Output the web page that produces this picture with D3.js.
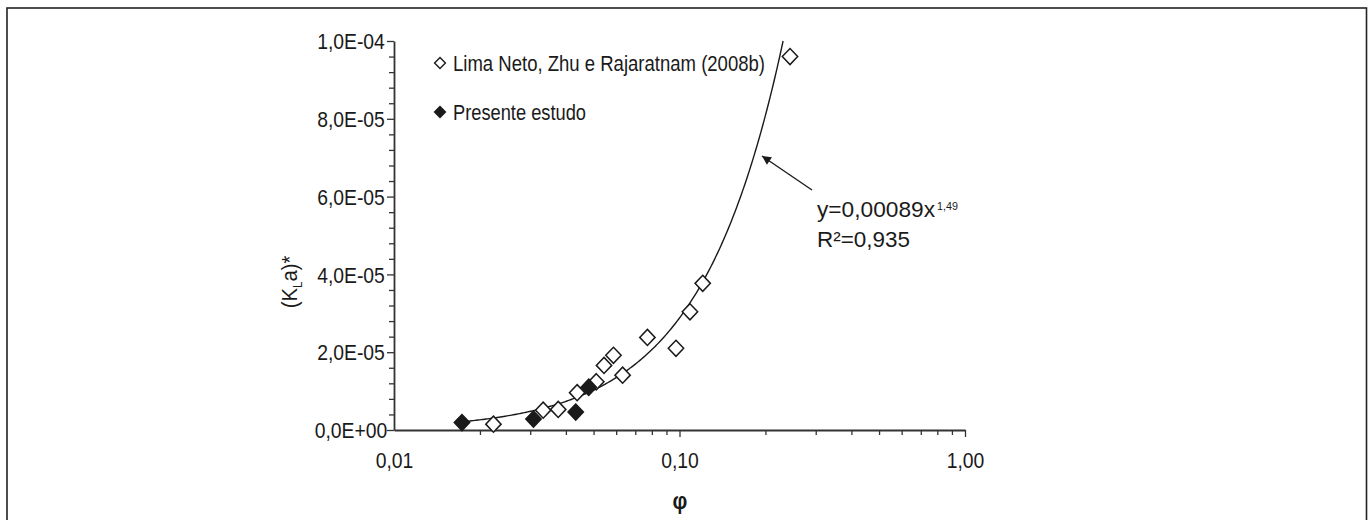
<!DOCTYPE html>
<html>
<head>
<meta charset="utf-8">
<script src="https://cdn.jsdelivr.net/npm/d3@7"></script>
<style>
  html, body { margin: 0; padding: 0; background: #fff; }
  svg { display: block; font-family: "Liberation Sans", Arial, sans-serif; }
</style>
</head>
<body>
<div id="chart"></div>
<script>
// ========= DATA =========
// Lima Neto, Zhu e Rajaratnam (2008b) - open diamonds
const limaX = [0.0223, 0.0333, 0.0376, 0.0438, 0.0511, 0.0544, 0.0587, 0.0632, 0.0772, 0.0972, 0.1088, 0.1206, 0.2438];
const limaY = [1.5e-6, 5.1e-6, 5.3e-6, 9.6e-6, 1.24e-5, 1.66e-5, 1.92e-5, 1.41e-5, 2.38e-5, 2.10e-5, 3.04e-5, 3.77e-5, 9.60e-5];
// Presente estudo - filled diamonds
const presX = [0.0173, 0.0308, 0.0433, 0.0481];
const presY = [1.9e-6, 2.8e-6, 4.6e-6, 1.1e-5];

// ajuste potencial y = a x^b
const FIT_A = 0.00089;
const FIT_B = 1.49;

const xTicks = [0.01, 0.1, 1];
const xTickLabels = ["0,01", "0,10", "1,00"];
const yTicks = [0, 2e-5, 4e-5, 6e-5, 8e-5, 1e-4];
const yTickLabels = ["0,0E+00", "2,0E-05", "4,0E-05", "6,0E-05", "8,0E-05", "1,0E-04"];
const legendLabels = ["Lima Neto, Zhu e Rajaratnam (2008b)", "Presente estudo"];

// ========= LAYOUT =========
const W = 1370, H = 520;
const SX = 0.9;        // letra condensada
const FS = 21.5;
const INK = "#1a1a1a";

const svg = d3.select("#chart").append("svg")
  .attr("width", W).attr("height", H);

// marco
svg.append("rect")
  .attr("x", 7).attr("y", 8)
  .attr("width", 1359.5).attr("height", 540)
  .attr("fill", "none").attr("stroke", "#222").attr("stroke-width", 1.6);

const x = d3.scaleLog().domain([0.01, 1]).range([394, 965]);
const y = d3.scaleLinear().domain([0, 1e-4]).range([430, 41]);

function txt(parent, px, py, s, size, anchor){
  return parent.append("text")
    .attr("transform", `translate(${px},${py}) scale(${SX},1)`)
    .attr("text-anchor", anchor || "start")
    .attr("font-size", size || FS)
    .attr("fill", INK)
    .text(s);
}

// ========= AXES =========
// y menores
const yMinor = d3.range(0, 1e-4 + 1e-9, 4e-6).filter(v => Math.abs(v / 2e-5 - Math.round(v / 2e-5)) > 1e-6);
svg.append("g")
  .attr("transform", `translate(${x(0.01)},0)`)
  .call(d3.axisLeft(y).tickValues(yMinor).tickSize(5).tickFormat(""))
  .call(g => g.select(".domain").remove())
  .selectAll("line").attr("stroke", "#333").attr("stroke-width", 1.3);

const yAxis = svg.append("g")
  .attr("transform", `translate(${x(0.01)},0)`)
  .call(d3.axisLeft(y).tickValues(yTicks).tickSize(7).tickSizeOuter(0)
    .tickFormat((d, i) => yTickLabels[i]));
yAxis.select(".domain").attr("stroke", "#333").attr("stroke-width", 1.8);
yAxis.selectAll("line").attr("stroke", "#333").attr("stroke-width", 1.3);
yAxis.selectAll("text")
  .attr("x", null).attr("dy", null)
  .attr("text-anchor", "middle")
  .attr("transform", `translate(-43,7.7) scale(${SX},1)`)
  .attr("font-size", FS).attr("font-family", null).attr("fill", INK);

// x menores
const xMinor = [];
[0.01, 0.1].forEach(dec => d3.range(2, 10).forEach(k => xMinor.push(dec * k)));
svg.append("g")
  .attr("transform", `translate(0,${y(0)})`)
  .call(d3.axisBottom(x).tickValues(xMinor).tickSize(5).tickFormat(""))
  .call(g => g.select(".domain").remove())
  .selectAll("line").attr("stroke", "#333").attr("stroke-width", 1.3);

const xAxis = svg.append("g")
  .attr("transform", `translate(0,${y(0)})`)
  .call(d3.axisBottom(x).tickValues(xTicks).tickSize(7).tickSizeOuter(0)
    .tickFormat((d, i) => xTickLabels[i]));
xAxis.select(".domain").attr("stroke", "#333").attr("stroke-width", 1.8);
xAxis.selectAll("line").attr("stroke", "#333").attr("stroke-width", 1.3);
xAxis.selectAll(".tick").filter(d => d === 0.01).select("line").remove();
xAxis.selectAll("text")
  .attr("y", null).attr("dy", null)
  .attr("transform", `translate(0,37.5) scale(${SX},1)`)
  .attr("font-size", FS).attr("font-family", null).attr("fill", INK);

// titulos de eje
const yt = svg.append("text")
  .attr("transform", `translate(297,282) rotate(-90) scale(${SX},1)`)
  .attr("text-anchor", "middle")
  .attr("font-size", 22.5).attr("fill", INK);
yt.append("tspan").text("(K");
yt.append("tspan").attr("font-size", 13).attr("dy", 5).text("L");
yt.append("tspan").attr("dy", -5).text("a)*");

txt(svg, 680, 509, "φ", 23, "middle").attr("font-weight", "bold");

// ========= CURVA AJUSTE =========
const fitXmax = Math.pow(y.domain()[1] / FIT_A, 1 / FIT_B);
const fitXmin = d3.min(presX.concat(limaX));
const fitPts = d3.range(0, 201).map(i => {
  const lx = Math.log10(fitXmin) + (Math.log10(fitXmax) - Math.log10(fitXmin)) * i / 200;
  const xv = Math.pow(10, lx);
  return [xv, FIT_A * Math.pow(xv, FIT_B)];
});
svg.append("path")
  .datum(fitPts)
  .attr("fill", "none").attr("stroke", INK).attr("stroke-width", 1.4)
  .attr("d", d3.line().x(d => x(d[0])).y(d => y(d[1])));

// ========= PUNTOS =========
const diamond = d3.symbol().type(d3.symbolDiamond2);
const lima = limaX.map((v, i) => [v, limaY[i]]);
const pres = presX.map((v, i) => [v, presY[i]]);

svg.append("g").selectAll("path").data(lima).join("path")
  .attr("transform", d => `translate(${x(d[0])},${y(d[1])}) scale(1,1.05)`)
  .attr("d", diamond.size(150))
  .attr("fill", "#fff").attr("stroke", INK).attr("stroke-width", 1.5);

svg.append("g").selectAll("path").data(pres).join("path")
  .attr("transform", d => `translate(${x(d[0])},${y(d[1])}) scale(1,1.05)`)
  .attr("d", diamond.size(150))
  .attr("fill", INK).attr("stroke", INK).attr("stroke-width", 1.5);

// ========= LEYENDA =========
const leg = svg.append("g");
leg.append("path").attr("transform", "translate(440,63)").attr("d", d3.symbol().type(d3.symbolDiamond2).size(75))
  .attr("fill", "#fff").attr("stroke", INK).attr("stroke-width", 1.4);
leg.append("text").attr("x", 453).attr("y", 70.5).attr("font-size", FS).attr("fill", INK)
  .attr("textLength", 312).attr("lengthAdjust", "spacingAndGlyphs").text(legendLabels[0]);
leg.append("path").attr("transform", "translate(440,112)").attr("d", d3.symbol().type(d3.symbolDiamond2).size(75))
  .attr("fill", INK).attr("stroke", INK).attr("stroke-width", 1.4);
leg.append("text").attr("x", 453).attr("y", 119.5).attr("font-size", FS).attr("fill", INK)
  .attr("textLength", 133).attr("lengthAdjust", "spacingAndGlyphs").text(legendLabels[1]);

// ========= ANOTACION =========
svg.append("defs").append("marker")
  .attr("id", "arrow").attr("viewBox", "0 0 10 10")
  .attr("refX", 10).attr("refY", 5)
  .attr("markerWidth", 13).attr("markerHeight", 9)
  .attr("markerUnits", "userSpaceOnUse")
  .attr("orient", "auto")
  .append("path").attr("d", "M0,0 L10,5 L0,10 Z").attr("fill", INK);

svg.append("line")
  .attr("x1", 812).attr("y1", 190).attr("x2", 762).attr("y2", 156)
  .attr("stroke", INK).attr("stroke-width", 1.4)
  .attr("marker-end", "url(#arrow)");

svg.append("text").attr("x", 817).attr("y", 217).attr("font-size", FS).attr("fill", INK)
  .attr("textLength", 118).attr("lengthAdjust", "spacingAndGlyphs")
  .text(`y=${String(FIT_A).replace(".", ",")}x`);
svg.append("text").attr("x", 937).attr("y", 210).attr("font-size", 11.5).attr("fill", INK)
  .attr("textLength", 21).attr("lengthAdjust", "spacingAndGlyphs")
  .text(String(FIT_B).replace(".", ","));
svg.append("text").attr("x", 817).attr("y", 246.5).attr("font-size", FS).attr("fill", INK)
  .attr("textLength", 93).attr("lengthAdjust", "spacingAndGlyphs")
  .text("R²=0,935");
</script>
</body>
</html>
